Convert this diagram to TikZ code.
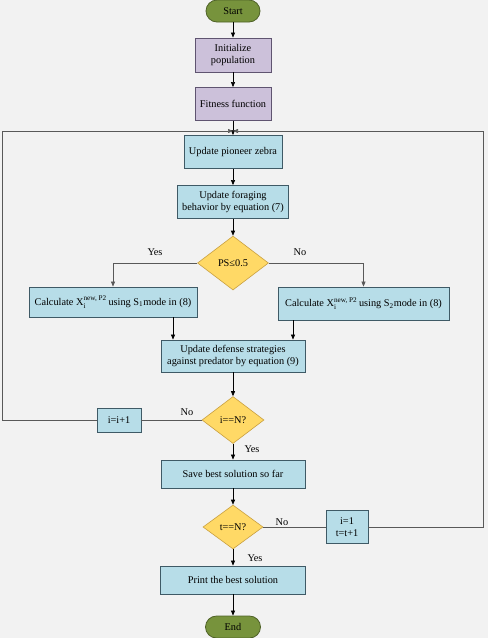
\documentclass[tikz,border=0pt]{standalone}
\usepackage{fontspec}
\setmainfont{Liberation Serif}
\usepackage{amsmath}
\usetikzlibrary{shapes.geometric, arrows.meta}

\definecolor{bgc}{HTML}{F2F2F2}
\definecolor{termc}{HTML}{77933C}
\definecolor{termb}{HTML}{4F6228}
\definecolor{initc}{HTML}{CCC1DA}
\definecolor{initb}{HTML}{5F5470}
\definecolor{procc}{HTML}{B7DDE8}
\definecolor{procb}{HTML}{3F5A66}
\definecolor{decc}{HTML}{FFD966}
\definecolor{decb}{HTML}{C9A040}

\begin{document}
\begin{tikzpicture}[x=1pt, y=-1pt,
    font=\fontsize{10.3}{11.8}\selectfont,
    term/.style={draw=termb, fill=termc, rounded corners=11pt, inner sep=0pt,
      minimum height=22pt, line width=0.8pt},
    initbox/.style={draw=initb, fill=initc, align=center, inner sep=0pt, line width=0.8pt},
    procbox/.style={draw=procb, fill=procc, align=center, inner sep=0pt, line width=0.8pt},
    decide/.style={diamond, draw=decb, fill=decc, inner sep=0pt, line width=0.6pt},
    flow/.style={-{Triangle[length=5pt, width=4pt]}, line width=0.6pt},
    loopline/.style={draw=black!65, line width=0.8pt},
    lbl/.style={inner sep=0pt}]
      \fill[bgc] (0,0) rectangle (488,638);
      \useasboundingbox (0,0) rectangle (488,638);

      % main column
      \node[term, minimum width=54pt] (start) at (233,11) {Start};
      \node[initbox, minimum width=76pt, minimum height=34pt] (init) at (233,55) {Initialize\\population};
      \node[initbox, minimum width=76pt, minimum height=33pt] (fit) at (233,104) {Fitness function};
      \node[procbox, minimum width=98pt, minimum height=33pt] (pioneer) at (233,152) {Update pioneer zebra};
      \node[procbox, minimum width=111pt, minimum height=33pt] (forage) at (233,202) {Update foraging\\behavior by equation (7)};
      \node[decide, minimum width=71pt, minimum height=54pt] (ps) at (233,263) {PS≤0.5};
      \node[procbox, minimum width=168pt, minimum height=30pt] (sone) at (113,302)
        {Calculate X$_{\text{i}}^{\text{new, P2}}$\,using S$_{\text{1}}$mode in (8)};
      \node[procbox, minimum width=171pt, minimum height=33pt] (stwo) at (363.5,303.5)
        {Calculate X$_{\text{i}}^{\text{new, P2}}$\,using S$_{\text{2}}$mode in (8)};
      \node[procbox, minimum width=144pt, minimum height=32pt] (defense) at (233,356) {Update defense strategies\\against predator by equation (9)};
      \node[decide, minimum width=62pt, minimum height=47pt] (iend) at (233,420) {i==N?};
      \node[procbox, minimum width=44pt, minimum height=24pt] (inc) at (119,420) {i=i+1};
      \node[procbox, minimum width=144pt, minimum height=28pt] (save) at (233,474) {Save best solution so far};
      \node[decide, minimum width=60pt, minimum height=44pt] (tend) at (233,527) {t==N?};
      \node[procbox, minimum width=42pt, minimum height=33pt] (reset) at (347,527) {i=1\\t=t+1};
      \node[procbox, minimum width=145pt, minimum height=28pt] (print) at (233,580) {Print the best solution};
      \node[term, minimum width=55pt] (finish) at (233,627) {End};

      \coordinate (merge) at (233,131);
      \coordinate (lcorner) at (2,131);
      \coordinate (rcorner) at (483,131);

      % straight arrows
      \foreach \a/\b in {start/init, init/fit, fit/pioneer, pioneer/forage, forage/ps,
                         defense/iend, iend/save, save/tend, tend/print, print/finish}{
        \draw[flow] (\a) -- (\b); }

      % branches of PS
      \draw[loopline, flow] (ps.west) -| (sone.north);
      \draw[loopline, flow] (ps.east) -| (stwo.north);
      \draw[flow] (sone.south -| 173,0) -- (defense.north -| 173,0);
      \draw[flow] (stwo.south -| 293,0) -- (defense.north -| 293,0);

      % loops back to the top
      \draw[loopline] (iend.west) -- (inc.east);
      \draw[loopline] (tend.east) -- (reset.west);
      \draw[loopline, flow] (inc.west) -| (lcorner) -- (merge);
      \draw[loopline, flow] (reset.east) -| (rcorner) -- (merge);

      % labels
      \node[lbl] (yesps) at (155,252) {Yes};
      \node[lbl] (nops) at (300,252) {No};
      \node[lbl] (noi) at (187,412) {No};
      \node[lbl] (yesi) at (252,449) {Yes};
      \node[lbl] (not) at (282,522) {No};
      \node[lbl] (yest) at (255,558) {Yes};
    \end{tikzpicture}
\end{document}
